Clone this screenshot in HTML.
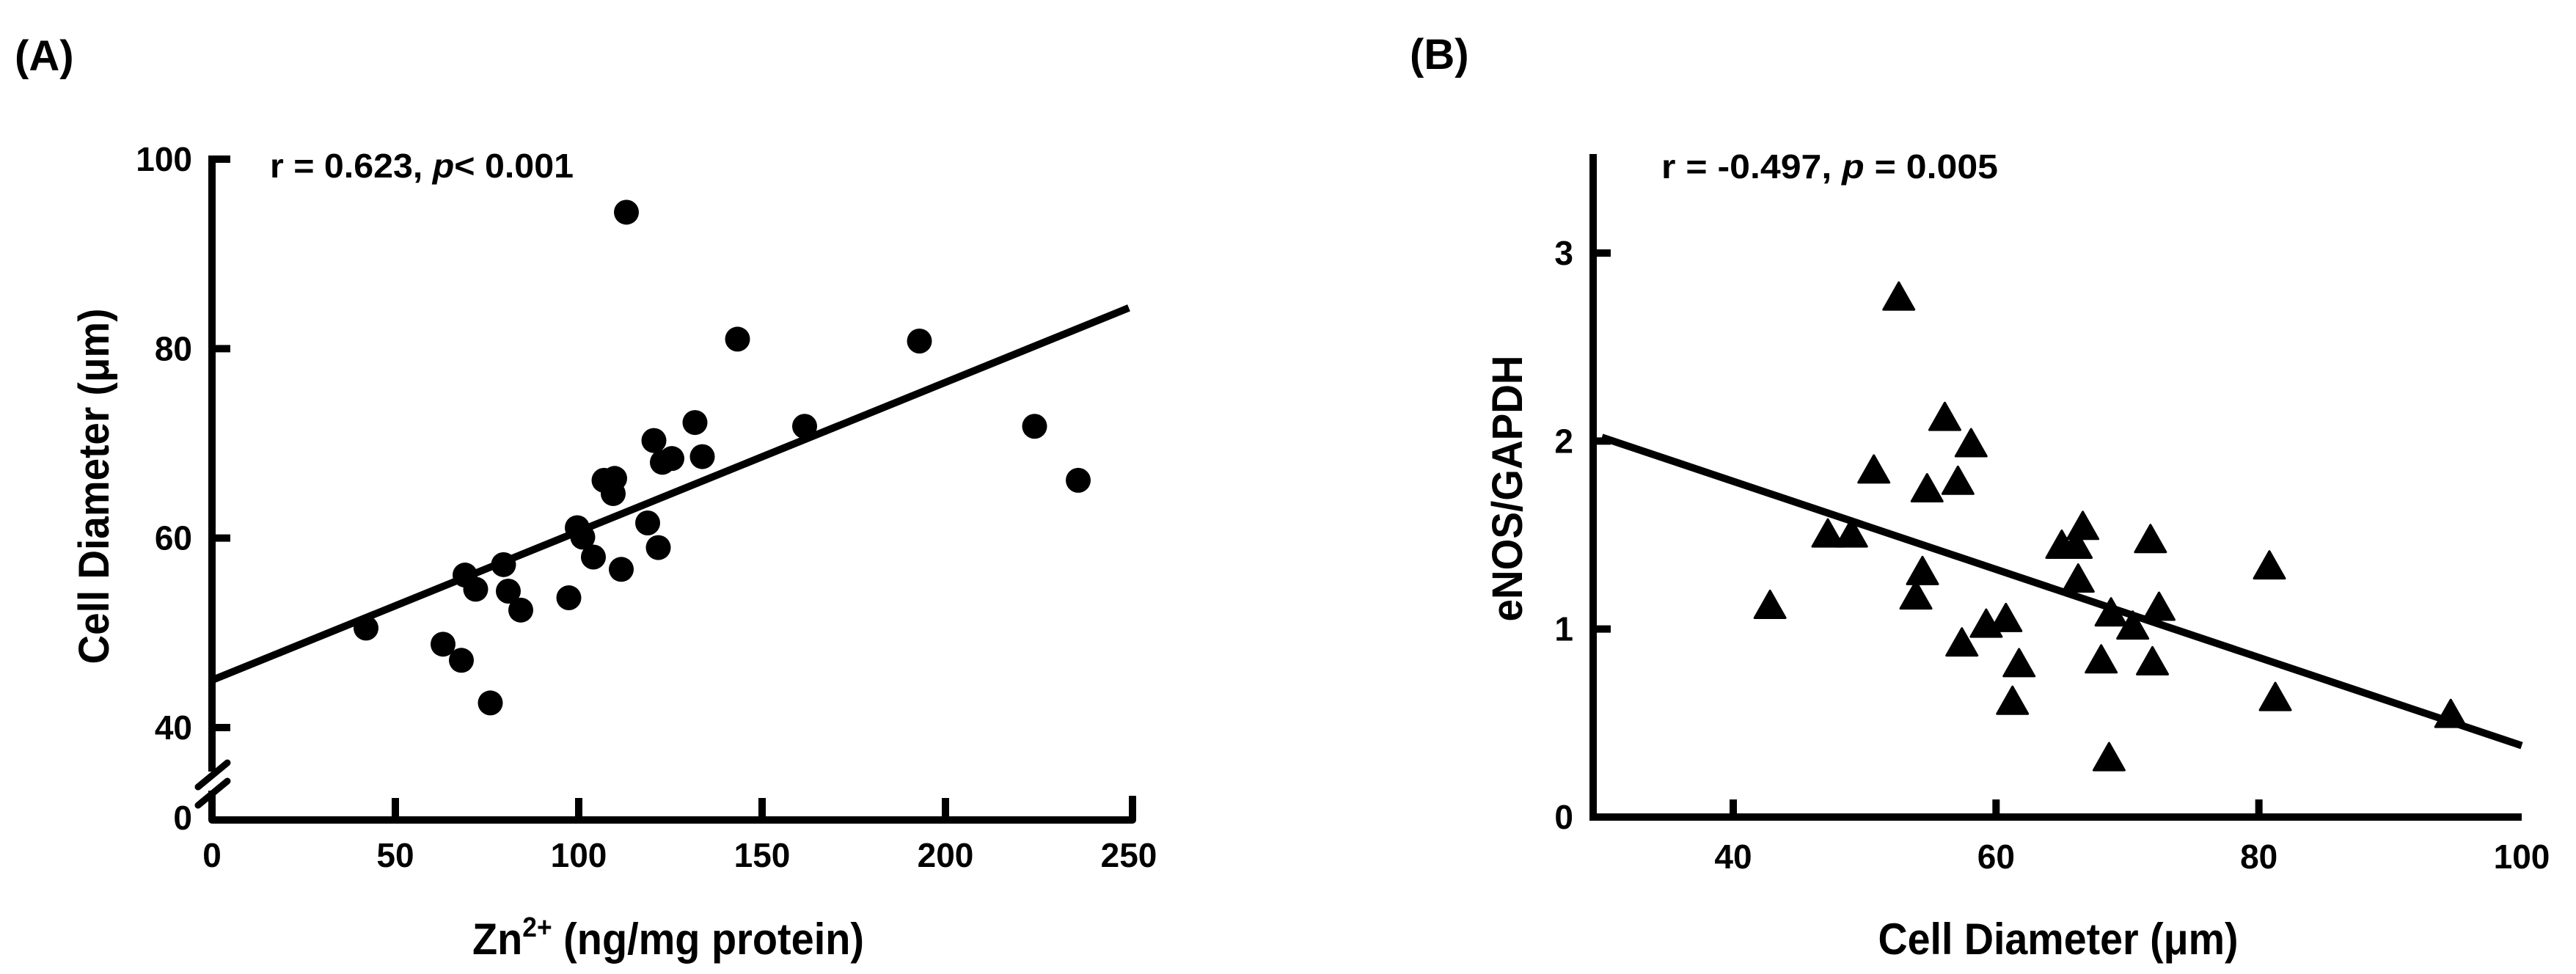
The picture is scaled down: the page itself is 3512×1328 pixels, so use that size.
<!DOCTYPE html>
<html><head><meta charset="utf-8"><style>
html,body{margin:0;padding:0;background:#fff;}
svg{display:block;font-family:"Liberation Sans",Arial,sans-serif;font-weight:bold;}
</style></head><body>
<svg id="fig" width="3512" height="1328" viewBox="0 0 3512 1328" xmlns="http://www.w3.org/2000/svg">
<rect width="3512" height="1328" fill="#fff"/>
<g id="pa"></g>
<g id="pb"></g>
</svg>
<script>
// Panel A data
const aZn = [42,63,68,75.9,69,71.9,79.5,80.8,84.2,97.3,99.6,101.1,104,111.6,106.9,109.8,109.4,113,118.8,121.7,120.5,122.8,125.4,131.7,133.7,143.3,161.6,192.9,224.3,236.2];
const aDiam = [50.5,48.8,47.1,42.6,56.1,54.6,57.2,54.4,52.4,53.7,61.1,60.1,58,56.7,66.1,66.3,64.7,94.4,61.6,59,70.3,68,68.4,72.2,68.6,81,71.8,80.8,71.8,66.1];
const aXTicks = [0,50,100,150,200,250];
const aYTicks = [40,60,80,100];
const aFit = [[0,45],[250,84.3]];
// Panel B data
const bDiam = [42.8,47.2,49,50.7,52.6,53.9,54.4,54.75,56.1,57.1,57.4,58.1,59.25,60.75,61.25,61.75,65,66.1,66.6,66.25,68,68.6,68.75,70.4,71.75,71.9,72.4,80.8,81.25,94.6];
const bEnos = [1.11,1.49,1.49,1.83,2.75,1.16,1.29,1.73,2.11,1.77,0.91,1.97,1.01,1.04,0.60,0.80,1.43,1.43,1.53,1.25,0.82,0.30,1.07,1.0,1.46,0.81,1.10,1.32,0.62,0.53];
const bXTicks = [40,60,80,100];
const bYTicks = [0,1,2,3];
const bFit = [[30,2.02],[100,0.38]];

const NS="http://www.w3.org/2000/svg";
function mk(parent,tag,attrs,text){const e=document.createElementNS(NS,tag);for(const k in attrs)e.setAttribute(k,attrs[k]);if(text!==undefined)e.textContent=text;parent.appendChild(e);return e;}

// ---- Panel A ----
const A=document.getElementById('pa');
const ax=v=>289+(v-0)*(1539-289)/250;
const ay=v=>992-(v-40)*(992-217)/60;
let t;
t=mk(A,'text',{x:20,y:96,'font-size':58});t.textContent='(A)';

let l;
l=mk(A,'path',{d:`M289 212 L289 1052 M289 1078 L289 1118 L1544 1118 L1544 ${1113-28}`,stroke:'#000','stroke-width':10,fill:'none','stroke-linejoin':'round'});

l=mk(A,'path',{d:'M270 1073 L310 1040 M270 1098 L310 1065',stroke:'#000','stroke-width':9,'stroke-linecap':'round'});

aYTicks.forEach(v=>{
  const y=ay(v);
  const tk=mk(A,'line',{x1:289,x2:314,y1:y,y2:y,stroke:'#000','stroke-width':10});
  
  const tl=mk(A,'text',{x:262,y:y+16,'font-size':46,'text-anchor':'end'},String(v));
  
});
t=mk(A,'text',{x:262,y:1131,'font-size':46,'text-anchor':'end'},'0');

aXTicks.forEach(v=>{
  const x=ax(v);
  if(v>0&&v<250){const tk=mk(A,'line',{x1:x,x2:x,y1:1113,y2:1088,stroke:'#000','stroke-width':10});
  }
  const tl=mk(A,'text',{x:x,y:1182,'font-size':46,'text-anchor':'middle'},String(v));
  
});
l=mk(A,'line',{x1:ax(aFit[0][0]),y1:ay(aFit[0][1]),x2:ax(aFit[1][0]),y2:ay(aFit[1][1]),stroke:'#000','stroke-width':10});

aZn.forEach((v,i)=>{
  const c=mk(A,'circle',{cx:ax(v),cy:ay(aDiam[i]),r:17,fill:'#000'});
  
});
t=mk(A,'text',{x:368,y:242,'font-size':46,textLength:414,lengthAdjust:'spacingAndGlyphs'});
t.innerHTML='r = 0.623, <tspan font-style="italic">p</tspan>&lt; 0.001';

t=mk(A,'text',{x:644,y:1301,'font-size':60,textLength:534,lengthAdjust:'spacingAndGlyphs'});
t.innerHTML='Zn<tspan font-size="38" dy="-24">2+</tspan><tspan dy="24"> (ng/mg protein)</tspan>';

t=mk(A,'text',{x:0,y:0,'font-size':58,'text-anchor':'middle',transform:'translate(148,663) rotate(-90)',textLength:485,lengthAdjust:'spacingAndGlyphs'},'Cell Diameter (μm)');


// ---- Panel B ----
const B=document.getElementById('pb');
const bx=v=>2363+(v-40)*(3438-2363)/60;
const by=v=>1114-v*(1114-345)/3;
t=mk(B,'text',{x:1922,y:94,'font-size':58},'(B)');

l=mk(B,'path',{d:'M2172 210 L2172 1114 L3438 1114',stroke:'#000','stroke-width':10,fill:'none','stroke-linejoin':'miter'});

bYTicks.forEach(v=>{
  const y=by(v);
  if(v>0){const tk=mk(B,'line',{x1:2172,x2:2196,y1:y,y2:y,stroke:'#000','stroke-width':10});
  }
  const tl=mk(B,'text',{x:2145,y:y+16,'font-size':46,'text-anchor':'end'},String(v));
  
});
bXTicks.forEach(v=>{
  const x=bx(v);
  if(v<100){const tk=mk(B,'line',{x1:x,x2:x,y1:1114,y2:1090,stroke:'#000','stroke-width':10});
  }
  const tl=mk(B,'text',{x:x,y:1184,'font-size':46,'text-anchor':'middle'},String(v));
  
});
l=mk(B,'line',{x1:bx(bFit[0][0]),y1:by(bFit[0][1]),x2:bx(bFit[1][0]),y2:by(bFit[1][1]),stroke:'#000','stroke-width':10});

bDiam.forEach((v,i)=>{
  const x=bx(v),y=by(bEnos[i]);
  const p=mk(B,'polygon',{points:`${x},${y-24} ${x+21},${y+13} ${x-21},${y+13}`,fill:'#000',stroke:'#000','stroke-width':3,'stroke-linejoin':'round'});
  
});
t=mk(B,'text',{x:2265,y:243,'font-size':46,textLength:459,lengthAdjust:'spacingAndGlyphs'});
t.innerHTML='r = -0.497, <tspan font-style="italic">p</tspan> = 0.005';

t=mk(B,'text',{x:2806,y:1301,'font-size':60,'text-anchor':'middle',textLength:491,lengthAdjust:'spacingAndGlyphs'},'Cell Diameter (μm)');

t=mk(B,'text',{x:0,y:0,'font-size':58,'text-anchor':'middle',transform:'translate(2075,666) rotate(-90)',textLength:363,lengthAdjust:'spacingAndGlyphs'},'eNOS/GAPDH');

</script>
</body></html>
